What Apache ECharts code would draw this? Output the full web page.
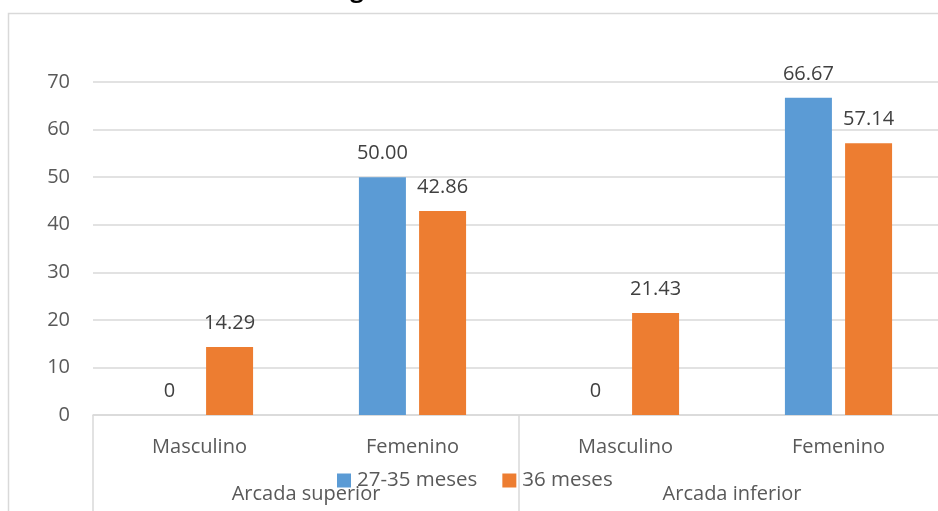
<!DOCTYPE html>
<html>
<head>
<meta charset="utf-8">
<style>
html,body{margin:0;padding:0;background:#fff;}
#chart{width:938px;height:511px;}
</style>
<script src="https://cdn.jsdelivr.net/npm/echarts@6/dist/echarts.min.js"></script>
</head>
<body>
<div id="chart"></div>
<script>
var categories = ['Masculino', 'Femenino', 'Masculino', 'Femenino'];
var groups = ['Arcada superior', 'Arcada inferior'];
var seriesNames = ['27-35 meses', '36 meses'];
var values2735 = [0, 50.00, 0, 66.67];
var values36 = [14.29, 42.86, 21.43, 57.14];
var yTicks = [0, 10, 20, 30, 40, 50, 60, 70];

var FONT = 'Open Sans';
var chart = echarts.init(document.getElementById('chart'), null, {renderer: 'canvas'});

function fmt(p) { return p.value === 0 ? '0' : p.value.toFixed(2); }

var labelCfg = {
  show: true, position: 'top', distance: 14,
  color: '#404040', fontFamily: FONT, fontSize: 20,
  formatter: fmt
};

chart.setOption({
  animation: false,
  textStyle: {fontFamily: FONT},
  graphic: [
    {type: 'rect', silent: true, z: -10,
     shape: {x: 8.5, y: 13.5, width: 1200, height: 800},
     style: {fill: 'none', stroke: '#d9d9d9', lineWidth: 1.5}},
    {type: 'text', silent: true, x: 357, y: -22,
     style: {text: 'g', font: 'bold 24px "Open Sans"', fill: '#000', align: 'center', verticalAlign: 'top'}}
  ],
  legend: {
    data: seriesNames,
    left: 337, top: 470, padding: 0,
    itemWidth: 14, itemHeight: 14, itemGap: 25,
    icon: 'rect',
    textStyle: {color: '#595959', fontFamily: FONT, fontSize: 20.5, padding: [0, 0, 0, 1]}
  },
  grid: {left: 93, width: 852, top: 82, bottom: 96, containLabel: false, outerBoundsMode: 'none'},
  xAxis: [
    {
      type: 'category', data: categories, position: 'bottom',
      axisLine: {show: true, lineStyle: {color: '#d9d9d9', width: 1.5}},
      axisTick: {show: false},
      axisLabel: {color: '#595959', fontFamily: FONT, fontSize: 20, margin: 22, interval: 0}
    },
    {
      type: 'category', data: groups, position: 'bottom',
      axisLine: {show: false},
      axisTick: {show: true, length: 100, lineStyle: {color: '#d9d9d9', width: 1.5}},
      axisLabel: {color: '#595959', fontFamily: FONT, fontSize: 20, margin: 69, interval: 0}
    }
  ],
  yAxis: {
    type: 'value', min: yTicks[0], max: yTicks[yTicks.length - 1], interval: 10,
    axisLine: {show: false}, axisTick: {show: false},
    axisLabel: {color: '#595959', fontFamily: FONT, fontSize: 20, margin: 23},
    splitLine: {lineStyle: {color: '#d9d9d9', width: 1.5}}
  },
  series: [
    {name: seriesNames[0], type: 'bar', xAxisIndex: 0, data: values2735,
     itemStyle: {color: '#5b9bd5'}, barWidth: 47, barGap: '28%', label: labelCfg},
    {name: seriesNames[1], type: 'bar', xAxisIndex: 0, data: values36,
     itemStyle: {color: '#ed7d31'}, barWidth: 47, barGap: '28%', label: labelCfg}
  ]
});
</script>
</body>
</html>
